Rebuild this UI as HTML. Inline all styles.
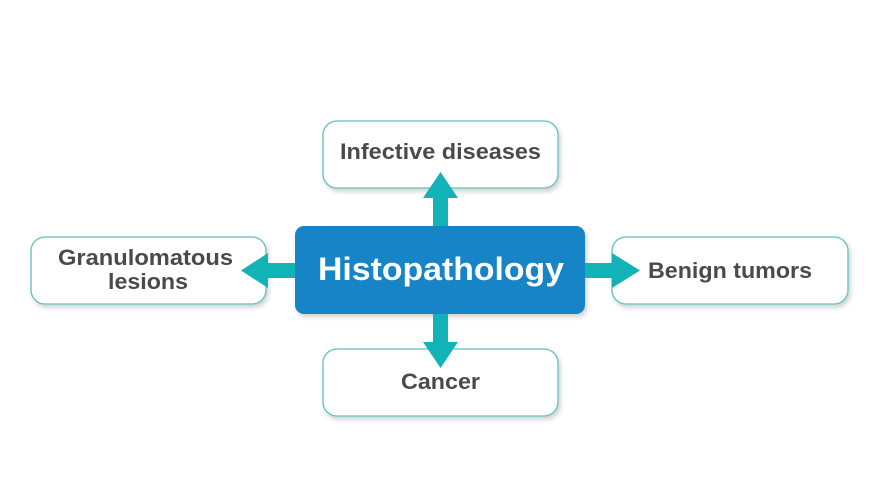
<!DOCTYPE html>
<html><head><style>
body{margin:0;background:#fff;}
svg{display:block}
text{font-family:"Liberation Sans",sans-serif;font-weight:bold;fill:#4a4a4a;}
</style></head><body>
<svg width="870" height="500" viewBox="0 0 870 500">
<defs><filter id="s" x="-10%" y="-10%" width="130%" height="140%"><feDropShadow dx="2" dy="3" stdDeviation="2.5" flood-color="#000" flood-opacity="0.18"/></filter></defs>
<g fill="#fff" stroke="#5fc0be" stroke-width="1.3" filter="url(#s)">
<rect x="323" y="121" width="235" height="67" rx="14"/>
<rect x="31" y="237" width="235" height="67" rx="14"/>
<rect x="612" y="237" width="236" height="67" rx="14"/>
<rect x="323" y="349" width="235" height="67" rx="14"/>
</g>
<rect x="295" y="226" width="290" height="88" rx="9" fill="#1784c6" filter="url(#s)"/>
<g fill="#12b3b6">
<polygon points="433,226 433,198 423,198 440.5,172 458,198 448,198 448,226"/>
<polygon points="433,314 433,342 423,342 440.5,368 458,342 448,342 448,314"/>
<polygon points="295,263 268,263 268,253 241,270.5 268,288 268,278 295,278"/>
<polygon points="585,263 612,263 612,253 640,270.5 612,288 612,278 585,278"/>
</g>
<text x="340" y="159" font-size="22" textLength="201" lengthAdjust="spacingAndGlyphs">Infective diseases</text>
<text x="401" y="389" font-size="22" textLength="79" lengthAdjust="spacingAndGlyphs">Cancer</text>
<text x="648" y="278" font-size="22" textLength="164" lengthAdjust="spacingAndGlyphs">Benign tumors</text>
<text x="58" y="265" font-size="22" textLength="175" lengthAdjust="spacingAndGlyphs">Granulomatous</text>
<text x="108" y="289" font-size="22" textLength="80" lengthAdjust="spacingAndGlyphs">lesions</text>
<text x="318" y="280" font-size="32" textLength="246" lengthAdjust="spacingAndGlyphs" style="fill:#fff">Histopathology</text>
</svg>
</body></html>
